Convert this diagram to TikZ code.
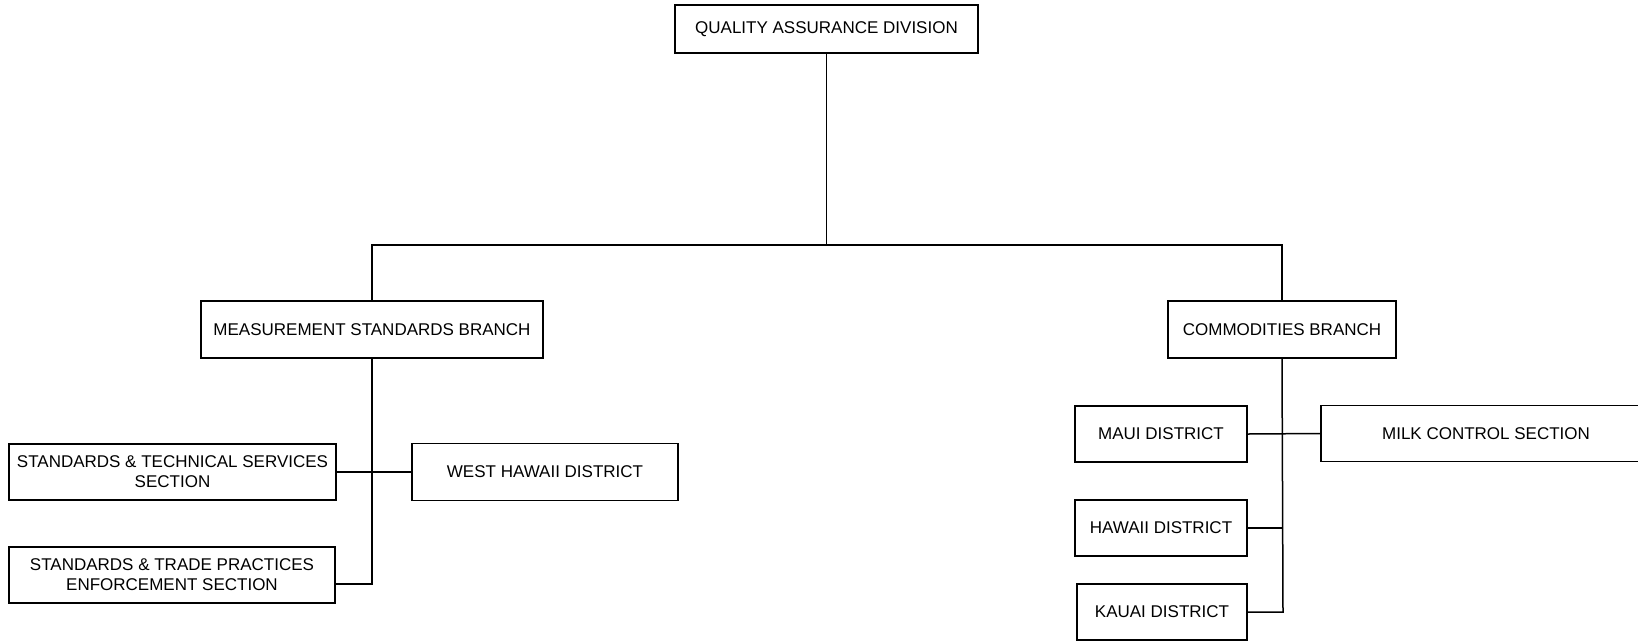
\documentclass[tikz,border=0pt]{standalone}
\usepackage{fontspec}
\setmainfont{Liberation Sans}
\begin{document}
\begin{tikzpicture}[x=1pt,y=-1pt,
  orgbox/.style={draw=black, line width=1.5pt, inner sep=0pt, align=center,
    font=\fontsize{17}{20}\selectfont},
  link/.style={draw=black, line width=1.5pt}]
\fill[white] (0,0) rectangle (1638,641);
\useasboundingbox (0,0) rectangle (1638,641);
\node[orgbox, minimum width=303pt, minimum height=48pt] (qad) at (826.5,29) {QUALITY ASSURANCE DIVISION};
\node[orgbox, minimum width=342pt, minimum height=57pt] (msb) at (372,329.5) {MEASUREMENT STANDARDS BRANCH};
\node[orgbox, minimum width=228pt, minimum height=57pt] (cb) at (1282,329.5) {COMMODITIES BRANCH};
\node[orgbox, minimum width=327pt, minimum height=56pt] (stss) at (172.5,472) {STANDARDS \& TECHNICAL SERVICES\\SECTION};
\node[orgbox, minimum width=266pt, minimum height=57pt] (whd) at (545,472) {WEST HAWAII DISTRICT};
\node[orgbox, minimum width=326pt, minimum height=56pt] (stpes) at (172,575) {STANDARDS \& TRADE PRACTICES\\ENFORCEMENT SECTION};
\node[orgbox, minimum width=172pt, minimum height=56pt] (maui) at (1161,434) {MAUI DISTRICT};
\node[orgbox, minimum width=330pt, minimum height=56pt] (milk) at (1486,433.5) {MILK CONTROL SECTION};
\node[orgbox, minimum width=172pt, minimum height=56pt] (hawaii) at (1161,528) {HAWAII DISTRICT};
\node[orgbox, minimum width=170pt, minimum height=56pt] (kauai) at (1162,612) {KAUAI DISTRICT};
\coordinate (barl) at (372,245);
\coordinate (barr) at (1282,245);
\coordinate (msbend) at (372,584);
\coordinate (cbend) at (1283,612);
\draw[link] (qad.south) -- (qad.south |- barl);
\draw[link] (msb.north) -- (barl) -- (barr) -- (cb.north);
\draw[link] (msb.south) -- (msbend) -- (stpes.east |- msbend);
\draw[link] (stss.east) -- (whd.west);
\draw[link] (cb.south) -- (cbend) -- (kauai.east);
\draw[link] (maui.east) -- (milk.west);
\draw[link] (hawaii.east) -- (hawaii.east -| cbend);
\end{tikzpicture}
\end{document}
